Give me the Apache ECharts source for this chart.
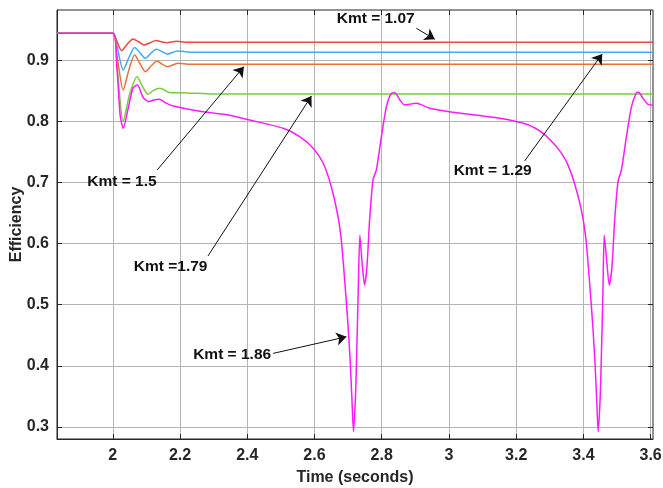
<!DOCTYPE html>
<html>
<head>
<meta charset="utf-8">
<script src="https://cdn.jsdelivr.net/npm/echarts@6/dist/echarts.min.js"></script>
<style>html,body{margin:0;padding:0;background:#fff}#c{width:663px;height:488px}</style>
</head>
<body>
<div id="c"></div>
<script>
var xTicks = [2, 2.2, 2.4, 2.6, 2.8, 3, 3.2, 3.4, 3.6];
var yTicks = [0.3, 0.4, 0.5, 0.6, 0.7, 0.8, 0.9];

var kmt107 = [[1.834,0.945],[2.0,0.945],[2.01,0.935],[2.026,0.9164],[2.043,0.927],[2.06,0.9356],[2.077,0.931],[2.093,0.9257],[2.11,0.929],[2.128,0.933],[2.144,0.931],[2.16,0.9295],[2.19,0.9318],[2.22,0.930],[3.607,0.930]];
var kmt129 = [[1.834,0.945],[2.0,0.945],[2.012,0.925],[2.031,0.8848],[2.048,0.905],[2.065,0.9214],[2.081,0.913],[2.097,0.9039],[2.113,0.912],[2.13,0.9186],[2.146,0.915],[2.162,0.911],[2.194,0.9159],[2.23,0.9137],[3.607,0.9137]];
var kmt15 = [[1.834,0.945],[2.0,0.945],[2.012,0.91],[2.031,0.852],[2.048,0.885],[2.065,0.9093],[2.081,0.895],[2.097,0.882],[2.115,0.892],[2.132,0.8995],[2.147,0.894],[2.163,0.8902],[2.194,0.8957],[2.23,0.894],[3.607,0.894]];
var kmt179 = [[1.834,0.945],[2.0,0.945],[2.012,0.895],[2.031,0.800],[2.05,0.845],[2.072,0.8738],[2.088,0.858],[2.105,0.8449],[2.12,0.851],[2.14,0.8547],[2.17,0.8476],[2.2,0.8476],[2.3,0.8454],[3.607,0.8454]];
var kmt186 = [[1.834,0.945],[2.0,0.945],[2.012,0.89],[2.022,0.81],[2.031,0.7891],[2.045,0.82],[2.06,0.855],[2.073,0.8602],[2.09,0.84],[2.107,0.8328],[2.125,0.836],[2.138,0.8367],[2.16,0.83],[2.18,0.8257],[2.25,0.818],[2.33,0.812],[2.407,0.8028],[2.507,0.7891],[2.556,0.7754],[2.596,0.7564],[2.626,0.7318],[2.650,0.6934],[2.670,0.6443],[2.679,0.61],[2.687,0.56],[2.694,0.51],[2.700,0.464],[2.706,0.41],[2.711,0.35],[2.716,0.292],[2.722,0.35],[2.726,0.43],[2.730,0.519],[2.735,0.614],[2.741,0.5733],[2.749,0.5323],[2.756,0.5623],[2.764,0.6389],[2.774,0.7044],[2.784,0.7208],[2.799,0.7754],[2.814,0.8246],[2.829,0.8466],[2.839,0.8475],[2.854,0.8356],[2.868,0.8274],[2.903,0.8302],[2.943,0.822],[3.002,0.8164],[3.151,0.8056],[3.235,0.795],[3.28,0.781],[3.31,0.765],[3.335,0.748],[3.355,0.728],[3.374,0.698],[3.394,0.655],[3.407,0.61],[3.415,0.56],[3.422,0.51],[3.428,0.464],[3.434,0.41],[3.439,0.35],[3.444,0.292],[3.450,0.35],[3.454,0.43],[3.458,0.519],[3.462,0.614],[3.469,0.5733],[3.477,0.5323],[3.485,0.5623],[3.493,0.6389],[3.503,0.7016],[3.513,0.7208],[3.528,0.7754],[3.543,0.8246],[3.557,0.8466],[3.564,0.8482],[3.577,0.8384],[3.592,0.8285],[3.607,0.8274]];

var labels = ['Kmt = 1.07', 'Kmt = 1.29', 'Kmt = 1.5', 'Kmt =1.79', 'Kmt = 1.86'];
var labelAt = [[2.782,0.968],[3.130,0.719],[2.027,0.701],[2.172,0.562],[2.355,0.4175]];
var arrowFrom = [[2.903,0.953],[3.225,0.7356],[2.132,0.7208],[2.283,0.5798],[2.477,0.4203]];
var arrowTo = [[2.958,0.935],[3.456,0.911],[2.390,0.8902],[2.591,0.8421],[2.695,0.4475]];

var ink = '#262626';
var chart = echarts.init(document.getElementById('c'), null, {renderer: 'canvas'});

function mkLine(name, data, color) {
  return {
    name: name, type: 'line', data: data, smooth: 0.25, symbol: 'none',
    lineStyle: {color: color, width: 1.5}, xAxisIndex: 0, yAxisIndex: 0,
    silent: true, animation: false
  };
}

var series = [
  mkLine('1.07', kmt107, '#f24545'),
  mkLine('1.29', kmt129, '#40acf5'),
  mkLine('1.5', kmt15, '#e5723f'),
  mkLine('1.79', kmt179, '#7acc3a'),
  mkLine('1.86', kmt186, '#ff19ff')
];

series.push({
  type: 'line', data: [], xAxisIndex: 0, yAxisIndex: 0, silent: true, animation: false,
  markLine: {
    silent: true, animation: false,
    symbol: ['none', 'arrow'], symbolSize: 10,
    lineStyle: {color: '#111', width: 1, type: 'solid'},
    itemStyle: {color: '#111'},
    label: {show: false},
    data: arrowFrom.map(function (f, i) {
      return [{coord: f}, {coord: arrowTo[i]}];
    })
  },
  markPoint: {
    silent: true, animation: false,
    symbol: 'rect', symbolSize: 1,
    itemStyle: {color: 'rgba(0,0,0,0)'},
    label: {show: true, position: 'inside', formatter: '{b}', color: '#111',
            fontFamily: 'Liberation Sans, Arial, sans-serif', fontWeight: 'bold', fontSize: 15.5},
    data: labels.map(function (t, i) { return {name: t, coord: labelAt[i]}; })
  }
});

var axisFont = {fontFamily: 'Liberation Sans, Arial, sans-serif', fontWeight: 'bold', fontSize: 16, color: ink};

chart.setOption({
  animation: false,
  backgroundColor: '#fff',
  grid: {left: 57, right: 10, top: 10, bottom: 49, containLabel: false, outerBoundsMode: 'none',
         show: true, borderColor: ink, borderWidth: 1, backgroundColor: '#fff'},
  xAxis: [{
    type: 'value', min: 1.834, max: 3.607, position: 'bottom',
    name: 'Time (seconds)', nameLocation: 'middle', nameGap: 31, nameMoveOverlap: false,
    nameTextStyle: {fontFamily: 'Liberation Sans, Arial, sans-serif', fontWeight: 'bold', fontSize: 16, color: ink},
    axisLine: {show: true, onZero: false, lineStyle: {color: ink, width: 1}},
    axisTick: {show: true, inside: true, length: 5, customValues: xTicks, lineStyle: {color: ink}},
    axisLabel: Object.assign({customValues: xTicks, margin: 9}, axisFont),
    splitLine: {show: true, lineStyle: {color: '#b4b4b4', width: 1}}
  }, {
    type: 'value', min: 1.834, max: 3.607, position: 'top',
    axisLine: {show: false},
    axisTick: {show: true, inside: true, length: 5, customValues: xTicks, lineStyle: {color: ink}},
    axisLabel: {show: false}, splitLine: {show: false}
  }],
  yAxis: [{
    type: 'value', min: 0.28, max: 0.983, position: 'left',
    name: 'Efficiency', nameLocation: 'middle', nameGap: 32, nameRotate: 90, nameMoveOverlap: false,
    nameTextStyle: {fontFamily: 'Liberation Sans, Arial, sans-serif', fontWeight: 'bold', fontSize: 16, color: ink},
    axisLine: {show: true, onZero: false, lineStyle: {color: ink, width: 1}},
    axisTick: {show: true, inside: true, length: 5, customValues: yTicks, lineStyle: {color: ink}},
    axisLabel: Object.assign({customValues: yTicks, margin: 8}, axisFont),
    splitLine: {show: true, lineStyle: {color: '#b4b4b4', width: 1}}
  }, {
    type: 'value', min: 0.28, max: 0.983, position: 'right',
    axisLine: {show: false},
    axisTick: {show: true, inside: true, length: 5, customValues: yTicks, lineStyle: {color: ink}},
    axisLabel: {show: false}, splitLine: {show: false}
  }],
  series: series
});
</script>
</body>
</html>
